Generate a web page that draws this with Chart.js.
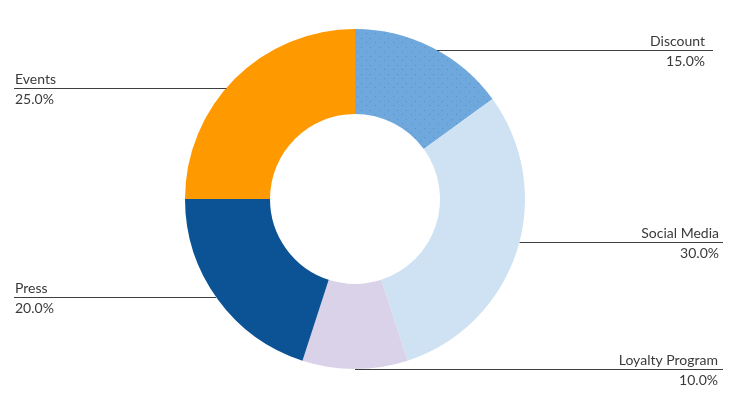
<!DOCTYPE html>
<html>
<head>
<meta charset="utf-8">
<script src="https://cdn.jsdelivr.net/npm/chart.js@4.4.0/dist/chart.umd.min.js"></script>
<style>
  html, body { margin: 0; padding: 0; background: #ffffff; }
  #wrap { width: 740px; height: 402px; position: relative; }
</style>
</head>
<body>
<div id="wrap"><canvas id="c"></canvas></div>
<script>
const categories = ["Discount", "Social Media", "Loyalty Program", "Press", "Events"];
const shares = [15.0, 30.0, 10.0, 20.0, 25.0];
const percentLabels = ["15.0%", "30.0%", "10.0%", "20.0%", "25.0%"];

const sliceColors = ["#6fa8dc", "#cfe2f3", "#d9d2e9", "#0b5394", "#ff9900"];

function dotPattern(base, dot) {
  const p = document.createElement("canvas");
  p.width = 9; p.height = 9;
  const g = p.getContext("2d");
  g.fillStyle = base; g.fillRect(0, 0, 9, 9);
  g.fillStyle = dot;
  g.fillRect(1, 2, 1, 1);
  g.fillRect(6, 6, 1, 1);
  return document.getElementById("c").getContext("2d").createPattern(p, "repeat");
}

const fills = sliceColors.slice();
fills[0] = dotPattern("#6fa8dc", "#5b8fc4");

const leaderPlugin = {
  id: "leaders",
  afterDatasetsDraw(chart, args, opts) {
    const ctx = chart.ctx;
    const meta = chart.getDatasetMeta(0);
    const W = chart.width;
    ctx.save();
    meta.data.forEach((arc, i) => {
      const p = arc.getProps(["x", "y", "startAngle", "endAngle", "outerRadius"], true);
      const mid = (p.startAngle + p.endAngle) / 2;
      const right = Math.cos(mid) >= 0;
      let dy = Math.sin(mid) * p.outerRadius + opts.yShift[i];
      dy = Math.max(-p.outerRadius, Math.min(p.outerRadius, dy));
      const y = Math.round(p.y + dy) + 0.5;
      const dx = Math.sqrt(Math.max(0, p.outerRadius * p.outerRadius - dy * dy));
      const xStart = right ? p.x + dx : p.x - dx;
      const xEnd = right ? W - opts.rightInset[i] : opts.leftInset;
      ctx.strokeStyle = "#3f3f3f";
      ctx.lineWidth = 1;
      ctx.beginPath();
      ctx.moveTo(xStart, y);
      ctx.lineTo(xEnd, y);
      ctx.stroke();
      ctx.fillStyle = "#3a3a3a";
      ctx.font = "14px Lato, 'Open Sans', sans-serif";
      ctx.textBaseline = "middle";
      let tx;
      if (right) { ctx.textAlign = "right"; tx = xEnd - opts.textPad[i]; }
      else { ctx.textAlign = "left"; tx = xEnd + 1; }
      ctx.fillText(chart.data.labels[i], tx, y - 9);
      ctx.fillText(percentLabels[i], tx, y + 11);
    });
    ctx.restore();
  }
};

new Chart(document.getElementById("c"), {
  type: "doughnut",
  data: {
    labels: categories,
    datasets: [{
      data: shares,
      backgroundColor: fills,
      borderWidth: 0,
      hoverOffset: 0
    }]
  },
  options: {
    responsive: true,
    maintainAspectRatio: false,
    animation: false,
    cutout: "50%",
    layout: { padding: { top: 29, bottom: 33, left: 185, right: 215 } },
    plugins: {
      legend: { display: false },
      tooltip: { enabled: false },
      leaders: {
        yShift: [2.5, -10, 0, -2, 9],
        rightInset: [27, 17, 17, 17, 17],
        leftInset: 14,
        textPad: [8, 4, 5, 4, 4]
      }
    }
  },
  plugins: [leaderPlugin]
});
</script>
</body>
</html>
